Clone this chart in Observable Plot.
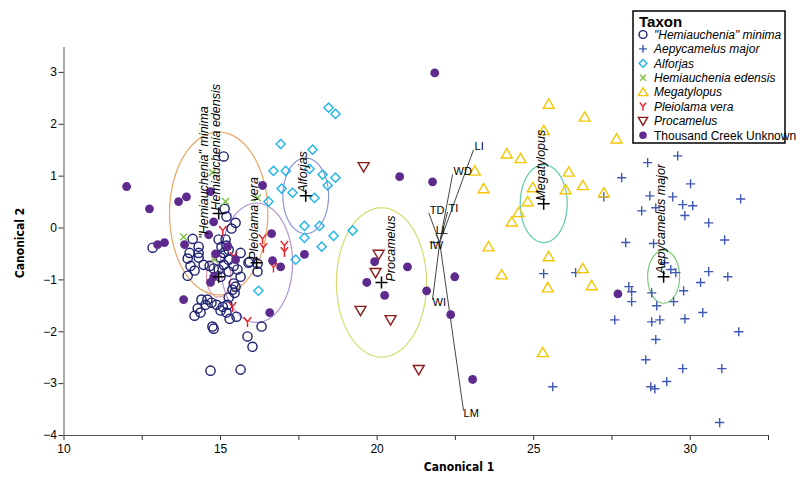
<!DOCTYPE html>
<html><head><meta charset="utf-8">
<script src="https://cdn.jsdelivr.net/npm/d3@7"></script>
<script src="https://cdn.jsdelivr.net/npm/@observablehq/plot@0.6"></script>
<style>
body{margin:0;background:#fff;}
#chart{position:relative;width:800px;height:491px;overflow:hidden;}
</style></head><body><div id="chart"></div>
<script>
// ---------------- DATA ----------------
const taxa = ['"Hemiauchenia" minima', "Aepycamelus major", "Alforjas", "Hemiauchenia edensis", "Megatylopus", "Pleiolama vera", "Procamelus", "Thousand Creek Unknown"];

const hMinima = [[15.10,1.38],[15.13,0.37],[15.19,0.22],[15.48,0.10],[15.35,-0.01],[14.11,-0.21],[14.30,-0.36],[12.83,-0.38],[14.30,-0.48],[14.01,-0.48],[13.95,-0.59],[14.04,-0.73],[14.17,-0.82],[13.95,-0.92],[14.30,-0.57],[14.46,-0.71],[14.65,-0.73],[14.78,-0.78],[14.94,-0.22],[15.03,-0.36],[15.19,-0.34],[15.10,-0.48],[15.26,-0.61],[15.10,-0.71],[14.94,-0.80],[15.00,-0.94],[15.26,-0.84],[15.42,-0.73],[15.54,-0.80],[15.64,-0.48],[15.93,-0.65],[15.42,-1.07],[15.38,-1.19],[15.48,-1.13],[15.26,-1.34],[14.58,-1.38],[14.71,-1.44],[14.87,-1.48],[15.07,-1.52],[14.52,-1.48],[14.39,-1.38],[16.18,-0.84],[16.18,-0.69],[15.00,-0.57],[15.26,-0.42],[14.17,-1.69],[14.36,-1.63],[14.27,-1.55],[15.00,-1.59],[15.19,-1.63],[15.29,-1.75],[15.51,-1.71],[15.22,-1.48],[14.74,-1.90],[14.78,-1.94],[16.31,-1.90],[15.86,-2.09],[16.02,-2.29],[14.68,-2.75],[15.64,-2.73],[15.89,-0.67],[15.45,-1.25],[15.64,-0.94],[15.16,-0.22]];

const aMajor = [[29.60,1.39],[28.64,1.26],[27.81,0.97],[30.01,0.85],[28.71,0.62],[29.44,0.60],[27.24,0.60],[31.61,0.56],[28.45,0.33],[28.90,0.39],[29.76,0.45],[30.08,0.43],[29.83,0.24],[30.59,0.10],[31.10,-0.23],[27.94,-0.28],[28.83,-0.30],[29.18,-0.67],[29.38,-0.80],[29.54,-0.86],[30.59,-0.84],[31.20,-0.94],[30.33,-1.05],[26.34,-0.86],[25.32,-0.88],[28.04,-1.13],[28.13,-1.23],[28.13,-1.42],[28.77,-1.25],[29.79,-1.21],[28.93,-1.50],[29.47,-1.42],[27.59,-1.77],[28.77,-1.81],[29.03,-1.77],[29.83,-1.75],[30.40,-1.63],[31.55,-2.00],[28.90,-2.15],[28.58,-2.54],[29.76,-2.71],[31.01,-2.71],[29.25,-2.96],[28.74,-3.06],[28.87,-3.10],[30.94,-3.75],[25.61,-3.06]];

const alforjas = [[16.92,1.62],[16.69,1.10],[17.08,1.10],[16.95,0.76],[17.30,0.68],[16.53,0.51],[17.94,1.51],[17.84,1.14],[18.26,1.03],[18.67,0.97],[18.42,0.82],[18.00,0.58],[18.45,2.32],[18.67,2.20],[17.68,0.04],[18.16,0.04],[18.61,-0.15],[19.22,-0.05],[17.68,-0.19],[18.23,-0.36],[17.40,-0.61],[16.21,-1.21]];

const hEdensis = [[14.74,1.07],[15.16,0.51],[13.82,-0.17],[14.81,-0.61],[16.18,0.58]];

const megatylopus = [[25.48,2.39],[26.63,2.14],[25.32,1.88],[27.65,1.72],[24.14,1.43],[24.58,1.34],[23.12,1.10],[26.12,1.08],[23.40,0.76],[24.97,0.78],[26.02,0.74],[26.57,0.82],[27.24,0.68],[24.81,0.51],[24.52,0.30],[24.30,0.12],[23.56,-0.36],[25.48,-0.55],[23.98,-0.90],[26.57,-0.78],[25.45,-1.15],[26.85,-1.11],[25.29,-2.40]];

const pVera = [[15.07,-0.05],[15.42,-0.55],[16.34,-0.21],[16.37,-0.38],[17.04,-0.34],[17.04,-0.46],[16.69,-0.76],[15.38,-1.52],[15.86,-1.81]];

const procamelus = [[19.57,1.18],[20.05,-0.51],[19.95,-0.86],[19.47,-1.59],[20.43,-1.77],[21.33,-2.73]];

const tcUnknown = [[12.00,0.80],[12.73,0.37],[13.66,0.51],[13.91,0.60],[14.68,0.70],[14.78,0.12],[14.62,-0.13],[13.85,-0.32],[12.99,-0.32],[13.21,-0.28],[14.84,-0.50],[15.48,-0.61],[15.22,-0.36],[14.78,-0.94],[14.68,-1.05],[13.82,-1.38],[16.34,0.82],[16.63,-0.11],[16.66,-0.63],[16.92,-0.75],[16.57,-1.63],[17.68,-0.51],[21.84,2.99],[20.72,0.99],[21.77,0.89],[19.92,-0.65],[20.97,-0.75],[19.67,-1.05],[20.24,-1.30],[21.58,-1.21],[22.48,-0.94],[22.35,-1.67],[23.05,-2.92],[27.69,-1.27]];

// group centroids (mean "+") and confidence-circle radii, order = taxa[0..6]
const centroidX = [14.94, 29.15, 17.72, 14.94, 25.32, 16.15, 20.14];
const centroidY = [-0.94, -0.94, 0.62, 0.28, 0.47, -0.67, -1.05];
const circleRadius = [0.39, 0.51, 0.73, 1.57, 0.75, 1.15, 1.44];

// biplot rays
const rayNames = ["LI", "WD", "TI", "TD", "LL", "IW", "WI", "LM"];
const rayX = [23.08, 22.41, 22.25, 21.65, 21.87, 21.68, 21.77, 22.76];
const rayY = [1.51, 1.03, 0.31, 0.29, -0.11, -0.28, -1.38, -3.52];
const rayOrigin = [22.00, -0.28];

const xTicks = [10, 12.5, 15, 17.5, 20, 22.5, 25, 27.5, 30, 32.5];
const yTicks = [-4, -3, -2, -1, 0, 1, 2, 3];

// ---------------- SYMBOLS / STYLES ----------------
const rr = s => Math.sqrt(s / Math.PI);
const symCircle = {draw(c, s){const r = rr(s); c.moveTo(r, 0); c.arc(0, 0, r, 0, 2*Math.PI);}};
const symPlus = {draw(c, s){const r = rr(s); c.moveTo(-r, 0); c.lineTo(r, 0); c.moveTo(0, -r); c.lineTo(0, r);}};
const symX = {draw(c, s){const r = rr(s)*0.75; c.moveTo(-r, -r); c.lineTo(r, r); c.moveTo(r, -r); c.lineTo(-r, r);}};
const symDiamond = {draw(c, s){const r = rr(s); c.moveTo(0, -r); c.lineTo(r, 0); c.lineTo(0, r); c.lineTo(-r, 0); c.closePath();}};
const symTriUp = {draw(c, s){const r = rr(s); c.moveTo(0, -r); c.lineTo(r*1.05, r*0.8); c.lineTo(-r*1.05, r*0.8); c.closePath();}};
const symTriDown = {draw(c, s){const r = rr(s); c.moveTo(0, r); c.lineTo(r*1.05, -r*0.8); c.lineTo(-r*1.05, -r*0.8); c.closePath();}};
const symY = {draw(c, s){const r = rr(s); c.moveTo(0, 0); c.lineTo(-r*0.8, -r); c.moveTo(0, 0); c.lineTo(r*0.8, -r); c.moveTo(0, 0); c.lineTo(0, r*1.1);}};

const style = {
  '"Hemiauchenia" minima': {sym: symCircle, color: "#1c2070", fill: false, r: 4.6, ell: "#e394ad"},
  "Aepycamelus major": {sym: symPlus, color: "#3f58b3", fill: false, r: 4.6, ell: "#7cc87c"},
  "Alforjas": {sym: symDiamond, color: "#1eb4ec", fill: false, r: 4.6, ell: "#8a97d6"},
  "Hemiauchenia edensis": {sym: symX, color: "#7dbf45", fill: false, r: 4.6, ell: "#e8a663"},
  "Megatylopus": {sym: symTriUp, color: "#f4c600", fill: false, r: 5.2, ell: "#5ecaae"},
  "Pleiolama vera": {sym: symY, color: "#ec1c24", fill: false, r: 4.6, ell: "#b295d3"},
  "Procamelus": {sym: symTriDown, color: "#8c1a1a", fill: false, r: 5.2, ell: "#d6db6e"},
  "Thousand Creek Unknown": {sym: symCircle, color: "#5f2a8e", fill: true, r: 4.4}
};
const groupData = [hMinima, aMajor, alforjas, hEdensis, megatylopus, pVera, procamelus, tcUnknown];

const FONT = '"Liberation Sans", Arial, sans-serif';

// ---------------- MARKS ----------------
const marks = [];
taxa.slice(0, 7).forEach((t, i) => {
  const pts = d3.range(0, 97).map(k => {
    const a = k / 96 * 2 * Math.PI;
    return {x: centroidX[i] + circleRadius[i] * Math.cos(a), y: centroidY[i] + circleRadius[i] * Math.sin(a)};
  });
  marks.push(Plot.line(pts, {x: "x", y: "y", stroke: style[t].ell, strokeWidth: 1.2}));
});
const rays = rayNames.map((n, i) => ({n, x: rayX[i], y: rayY[i]}));
marks.push(Plot.link(rays, {x1: () => rayOrigin[0], y1: () => rayOrigin[1], x2: "x", y2: "y", stroke: "#444", strokeWidth: 1}));
taxa.forEach((t, i) => {
  const s = style[t];
  const rows = groupData[i].map(([x, y]) => ({x, y}));
  marks.push(Plot.dot(rows, {x: "x", y: "y", symbol: s.sym, r: s.r,
    stroke: s.fill ? "none" : s.color, fill: s.fill ? s.color : "none", strokeWidth: 1.4}));
});
const cents = taxa.slice(0, 7).map((t, i) => ({t, x: centroidX[i], y: centroidY[i]}));
marks.push(Plot.dot(cents, {x: "x", y: "y", symbol: symPlus, r: 6, stroke: "black", strokeWidth: 1.5}));
const labStyle = {rotate: -90, textAnchor: "start", fontSize: 12.5, fontStyle: "italic", fill: "black", fontFamily: FONT};
marks.push(Plot.text(cents.filter(d => !['"Hemiauchenia" minima', "Procamelus"].includes(d.t)),
  {x: "x", y: "y", text: "t", lineAnchor: "middle", dy: -3, dx: -3, ...labStyle}));
marks.push(Plot.text(cents.filter(d => d.t === "Procamelus"),
  {x: "x", y: "y", text: "t", lineAnchor: "middle", dy: -1, dx: 10, ...labStyle}));
marks.push(Plot.text(cents.filter(d => d.t === '"Hemiauchenia" minima'),
  {x: "x", y: "y", text: "t", lineAnchor: "middle", dy: -38, dx: -15, ...labStyle}));
marks.push(Plot.text(rays.filter(d => d.y > 0), {x: "x", y: "y", text: "n", textAnchor: "start", dy: -3, dx: 1, fontSize: 11, fill: "black", fontFamily: FONT}));
marks.push(Plot.text(rays.filter(d => d.y <= 0 && d.y > -0.2), {x: "x", y: "y", text: "n", textAnchor: "start", dy: -3, dx: 0, fontSize: 11, fill: "black", fontFamily: FONT}));
marks.push(Plot.text(rays.filter(d => d.y <= -0.2), {x: "x", y: "y", text: "n", textAnchor: "start", dy: 3, dx: 0, fontSize: 11, fill: "black", fontFamily: FONT}));
marks.push(Plot.ruleX([10], {stroke: "#555", strokeWidth: 1}));
marks.push(Plot.ruleY([-4], {stroke: "#555", strokeWidth: 1}));

const chart = Plot.plot({
  width: 800, height: 491,
  marginLeft: 63.5, marginRight: 32, marginTop: 47, marginBottom: 56,
  style: {fontFamily: FONT, fontSize: "12px", background: "white", color: "#333"},
  x: {domain: [10, 32.5], ticks: xTicks, tickFormat: d => d % 5 === 0 ? String(d) : "", tickSize: 5, tickPadding: 4, label: null},
  y: {domain: [-4, 3.48], ticks: yTicks, tickSize: 5, tickPadding: 2, label: null},
  marks
});
document.getElementById("chart").appendChild(chart);

// ---------------- AXIS TITLES & LEGEND ----------------
const svg = d3.select(chart);
svg.selectAll("[aria-label='x-axis'] text, [aria-label='y-axis'] text, [aria-label='x-axis tick label'] text, [aria-label='y-axis tick label'] text").attr("fill", "black");
const TFONT = '"Liberation Sans Narrow", "DejaVu Sans Condensed", "Roboto Condensed", Arial, sans-serif';
svg.append("text").attr("x", 459).attr("y", 471).attr("text-anchor", "middle")
  .attr("font-family", TFONT).attr("font-weight", "bold").attr("font-size", 12).attr("fill", "black").text("Canonical 1");
svg.append("text").attr("transform", "translate(24,243) rotate(-90)").attr("text-anchor", "middle")
  .attr("font-family", TFONT).attr("font-weight", "bold").attr("font-size", 12).attr("fill", "black").text("Canonical 2");

const lg = svg.append("g").attr("transform", "translate(633,11)").attr("text-anchor", "start");
lg.append("rect").attr("width", 152).attr("height", 132).attr("fill", "white").attr("stroke", "black").attr("stroke-width", 1.5);
lg.append("text").attr("x", 6).attr("y", 16).attr("text-anchor", "start").attr("font-family", FONT).attr("font-weight", "bold").attr("font-size", 15).attr("fill", "black").text("Taxon");
taxa.forEach((t, i) => {
  const s = style[t];
  const y = 23.5 + i * 14.4;
  lg.append("path").attr("transform", `translate(10,${y})`)
    .attr("d", d3.symbol(s.sym, Math.PI * (s.r * 0.85) ** 2)())
    .attr("fill", s.fill ? s.color : "none").attr("stroke", s.fill ? "none" : s.color).attr("stroke-width", 1.4);
  lg.append("text").attr("x", 21).attr("y", y).attr("dy", "0.35em").attr("text-anchor", "start").attr("font-family", FONT).attr("font-size", 12)
    .attr("font-style", t === "Thousand Creek Unknown" ? "normal" : "italic").attr("fill", "black").text(t);
});
</script>
</body></html>
